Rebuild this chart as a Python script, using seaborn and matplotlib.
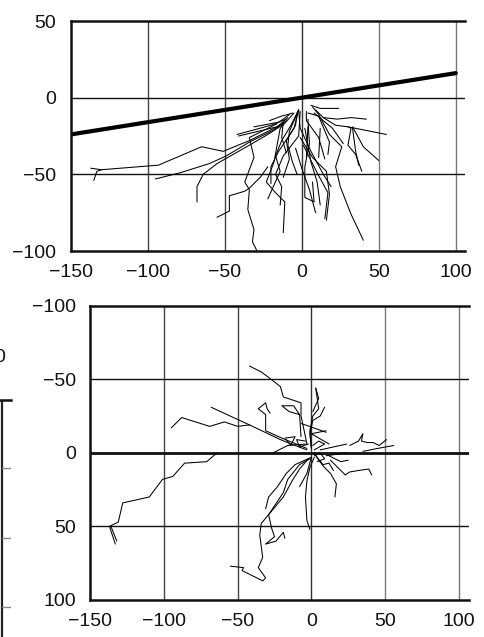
import matplotlib
matplotlib.use("Agg")
import matplotlib.pyplot as plt
import seaborn as sns
import pandas as pd

# ---------------- data ----------------
x_ticks = [-150, -100, -50, 0, 50, 100]
top_y_ticks = [-100, -50, 0, 50]
bottom_y_ticks = [-100, -50, 0, 50, 100]

# regression line (top panel)
fit_x = [-150, 100]
fit_y = [-24, 16]

# top panel tracks (x, y)
top_tracks = [
    [(-12, -17), (-20, -21), (-34, -28), (-51, -35), (-65, -32), (-93, -44), (-130, -47), (-137, -46)],
    [(-130, -47), (-133, -48), (-135, -54)],
    [(-10, -15), (-18, -21), (-34, -29), (-49, -38), (-60, -43), (-79, -49), (-95, -53)],
    [(-13, -18), (-22, -24), (-34, -31), (-55, -43), (-64, -50), (-68, -58), (-68, -68)],
    [(-22, -45), (-27, -52), (-34, -59), (-37, -61), (-47, -64), (-47, -74), (-55, -78)],
    [(-16, -17), (-34, -26), (-31, -39), (-37, -55), (-34, -60), (-35, -73), (-31, -86), (-32, -94), (-29, -100)],
    [(-10, -14), (-20, -18), (-42, -24)],
    [(-5, -10), (-14, -20), (-18, -42), (-23, -55), (-17, -62), (-11, -68), (-12, -88)],
    [(-2, -8), (-8, -22), (-9, -31), (-6, -42), (-3, -50)],
    [(-2, -8), (-7, -18), (-13, -28), (-17, -38), (-14, -48), (-22, -66)],
    [(4, -14), (5, -30), (2, -45), (2, -65), (8, -68), (7, -55)],
    [(-1, -26), (7, -39), (16, -48), (18, -63), (16, -80)],
    [(7, -6), (11, -11), (18, -24), (26, -32), (22, -45), (25, -58), (32, -76), (40, -93)],
    [(1, -31), (10, -49), (17, -62), (15, -79)],
    [(-4, -33), (0, -46), (5, -60), (9, -75)],
    [(6, -5), (12, -7), (24, -7)],
    [(9, -8), (14, -13), (22, -18), (30, -19), (55, -24)],
    [(14, -13), (23, -14), (32, -13), (42, -14)],
    [(30, -19), (32, -20), (30, -31), (35, -37), (39, -48)],
    [(33, -19), (40, -32), (50, -41)],
    [(33, -20), (35, -35), (37, -44)],
    [(12, -20), (11, -39)],
    [(4, -10), (11, -12), (18, -29), (17, -37)],
    [(-2, -8), (-1, -20), (6, -35), (14, -50), (19, -58)],
    [(-6, -10), (-9, -11), (-13, -12), (-21, -15)],
    [(-8, -11), (-12, -14), (-15, -16), (-31, -19)],
    [(4, -19), (3, -39)],
    [(-9, -13), (-16, -19), (-41, -25)],
    [(-2, -8), (-5, -20), (-15, -35), (-20, -45), (-20, -56)],
    [(-1, -9), (-2, -25), (-12, -38), (-17, -50), (-13, -58), (-14, -70)],
    [(3, -9), (3, -15), (11, -26), (15, -40)],
    [(8, -10), (20, -20), (27, -30)],
    [(-3, -10), (-4, -18), (-10, -28), (-8, -40), (-12, -52)],
    [(2, -20), (6, -42), (10, -55), (12, -70)],
    [(-12, -16), (-13, -26), (-10, -36)],
]

# bottom panel tracks (x, y)
bottom_tracks = [
    [(-64, 0), (-71, 6), (-86, 7), (-94, 16), (-101, 18), (-110, 30), (-128, 34), (-131, 47), (-137, 50), (-133, 62)],
    [(-136, 50), (-132, 60)],
    [(-42, -19), (-50, -18), (-59, -21), (-69, -18), (-88, -24), (-95, -17)],
    [(-3, -2), (-11, -5), (-21, -9), (-42, -19), (-68, -31)],
    [(-3, -6), (-4, -11), (-7, -25), (-7, -34), (-19, -38), (-21, -45), (-26, -49), (-34, -55), (-42, -59)],
    [(-3, -3), (-20, -10), (-31, -15), (-31, -26), (-36, -30), (-31, -34), (-30, -30), (-28, -27)],
    [(-7, -11), (-8, -26), (-12, -32), (-20, -32), (-15, -28), (-8, -26)],
    [(0, -3), (-1, -15), (1, -25), (5, -30), (3, -44)],
    [(0, -4), (-1, -13), (1, -22), (6, -25), (9, -31)],
    [(0, -13), (10, -15)],
    [(0, -13), (12, -6)],
    [(-26, 0), (-16, -5), (-4, -6)],
    [(-18, -10), (-11, -11), (-14, -5), (-17, -9)],
    [(6, -2), (24, -6)],
    [(26, -5), (32, -8), (35, -13), (34, -8), (38, -7), (42, -7), (46, -5), (51, -9)],
    [(35, -1), (45, -3), (56, -5)],
    [(2, 0), (5, 5), (9, 10), (13, 14), (17, 21), (16, 30)],
    [(10, 2), (24, 0)],
    [(13, 5), (19, 11), (23, 15), (26, 13), (32, 12), (39, 11), (41, 15)],
    [(2, 3), (-1, 10), (-3, 19), (-4, 30), (-3, 46), (-1, 52)],
    [(0, 3), (-11, 8), (-17, 14), (-23, 23), (-29, 30), (-31, 38)],
    [(-2, 4), (-8, 11), (-13, 19), (-19, 30), (-24, 36), (-34, 48), (-35, 56), (-33, 71), (-36, 78),
     (-31, 85), (-33, 87), (-47, 80), (-46, 78), (-55, 77)],
    [(-1, 4), (-8, 8), (-16, 18), (-19, 27), (-23, 33), (-29, 42), (-27, 51), (-25, 57), (-31, 62),
     (-24, 60), (-19, 54), (-18, 58)],
    [(0, 3), (-3, 14), (-8, 23)],
    [(12, 2), (20, 6), (25, 5)],
    [(3, 2), (8, 8), (12, 7), (15, 12)],
    [(1, -5), (5, -8), (9, -6), (2, -2)],
    [(-7, -20), (10, -14)],
    [(3, -44), (5, -37), (1, -28)],
    [(-4, -8), (-10, -9), (-8, -4), (-2, -6)],
    [(2, 2), (6, 0), (9, 4), (4, 6)],
]


def to_frame(tracks):
    rows = []
    for i, tr in enumerate(tracks):
        for j, (x, y) in enumerate(tr):
            rows.append({"track": i, "order": j, "x": x, "y": y})
    return pd.DataFrame(rows)


sns.set_style("white")
plt.rcParams["font.family"] = ["Liberation Sans", "DejaVu Sans"]
plt.rcParams["axes.unicode_minus"] = True

FS = 14
fig = plt.figure(figsize=(4.85, 6.37), dpi=100)
W, H = 485.0, 637.0


def style_axes(ax, xlim, ylim, yticks, zero_lw):
    ax.set_xlim(*xlim)
    ax.set_ylim(*ylim)
    ax.set_xticks(x_ticks)
    ax.set_yticks(yticks)
    ax.set_xlabel("")
    ax.set_ylabel("")
    ax.spines["right"].set_visible(False)
    for s in ["top", "bottom", "left"]:
        ax.spines[s].set_visible(True)
        ax.spines[s].set_color("#111111")
        ax.spines[s].set_linewidth(1.8)
        ax.spines[s].set_zorder(5)
    vcol = {-100: "#444444", -50: "#444444", 0: "#333333", 50: "#777777", 100: "#777777"}
    for xv, c in vcol.items():
        ax.axvline(xv, color=c, lw=1.0, zorder=1)
    for yv in yticks[1:-1]:
        ax.axhline(yv, color="#111111", lw=(zero_lw if yv == 0 else 1.0), zorder=1)
    ax.tick_params(axis="both", which="both", direction="out", length=7.5, width=1.0,
                   color="#777777", labelsize=FS, labelcolor="#111111")
    ax.tick_params(axis="y", pad=3.0)
    ax.tick_params(axis="x", pad=2.0)
    ax.patch.set_alpha(0)


# ---------------- top panel ----------------
ax1 = fig.add_axes([70.7 / W, 1 - 251 / H, (465 - 70.7) / W, 230 / H])
df_top = to_frame(top_tracks)
sns.lineplot(data=df_top, x="x", y="y", units="track", estimator=None, sort=False,
             color="black", linewidth=0.75, ax=ax1, legend=False, zorder=3)
sns.lineplot(x=fit_x, y=fit_y, color="black", linewidth=3.0, ax=ax1, legend=False, zorder=4)
style_axes(ax1, (-150, 106), (-100, 50), top_y_ticks, 1.0)

# ---------------- bottom panel ----------------
ax2 = fig.add_axes([90.3 / W, 1 - 600 / H, (469 - 90.3) / W, 294.3 / H])
df_bot = to_frame(bottom_tracks)
sns.lineplot(data=df_bot, x="x", y="y", units="track", estimator=None, sort=False,
             color="black", linewidth=0.75, ax=ax2, legend=False, zorder=3)
style_axes(ax2, (-150, 107), (100, -100), bottom_y_ticks, 2.0)

# ---------------- partial neighbouring panel (cropped at left edge) ----------------
ax3 = fig.add_axes([-0.5, 1 - 700 / H, 0.5 + 11 / W, 300 / H])
ax3.set_xlim(0, 1)
ax3.set_ylim(300, 0)
ax3.set_xticks([])
ax3.set_yticks([])
for s in ["right", "bottom", "left"]:
    ax3.spines[s].set_visible(False)
ax3.spines["top"].set_linewidth(1.8)
ax3.spines["top"].set_color("#111111")
xline = (2 / W + 0.5) / (0.5 + 11 / W)
ax3.axvline(xline, color="#222222", lw=1.6)
for yv in [68, 138, 207]:
    ax3.axhline(yv, xmin=xline, color="#888888", lw=1.0)
ax3.patch.set_alpha(0)
fig.text(-6 / W, 1 - 357 / H, "0", fontsize=FS, ha="left", va="center", color="#111111")

fig.savefig("out.png", dpi=100, facecolor="white")
